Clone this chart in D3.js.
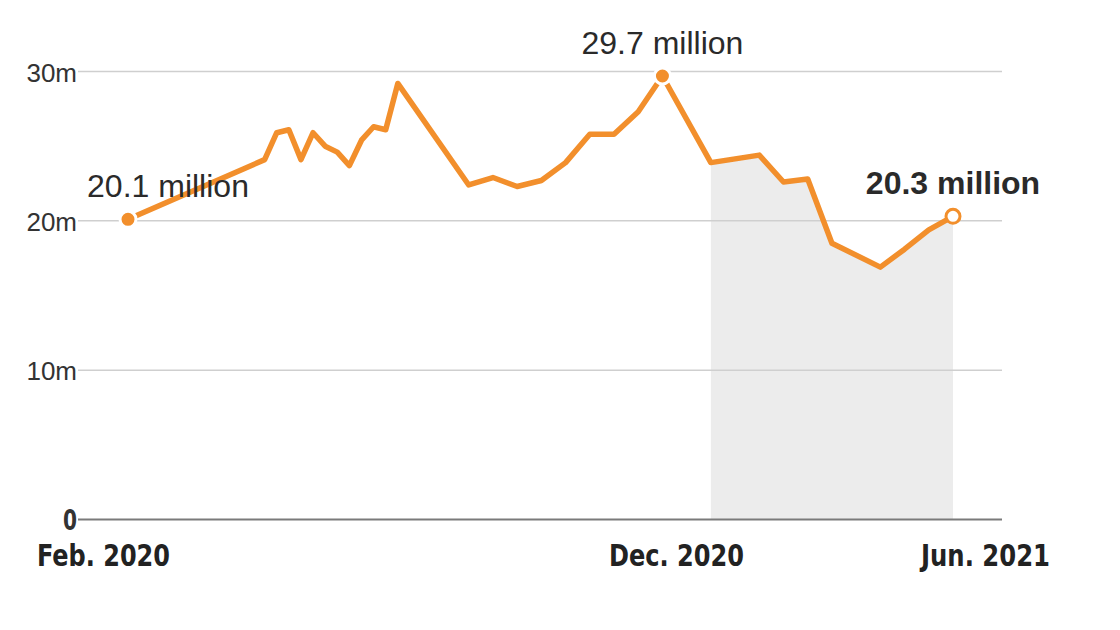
<!DOCTYPE html>
<html><head><meta charset="utf-8">
<script src="https://cdn.jsdelivr.net/npm/d3@7"></script>
<style>
html,body{margin:0;padding:0;background:#fff;}
svg{display:block;}
</style></head>
<body><svg id="chart" width="1120" height="630"></svg>
<script>
// Data (millions)
const dates = [
  "2020-02-11","2020-04-30","2020-05-07","2020-05-14","2020-05-21","2020-05-28",
  "2020-06-04","2020-06-11","2020-06-18","2020-06-25","2020-07-02","2020-07-09",
  "2020-07-16","2020-08-26","2020-09-09","2020-09-23","2020-10-07","2020-10-21",
  "2020-11-04","2020-11-18","2020-12-02","2020-12-16","2021-01-13","2021-02-10",
  "2021-02-24","2021-03-10","2021-03-24","2021-04-21","2021-05-05","2021-05-19",
  "2021-06-02"
];
const values = [
  20.1,24.1,25.9,26.1,24.1,25.9,
  25.0,24.6,23.7,25.4,26.3,26.1,
  29.2,22.4,22.9,22.3,22.7,23.9,
  25.8,25.8,27.3,29.7,23.9,24.4,
  22.6,22.8,18.5,16.9,18.1,19.4,
  20.3
];
const yTicks = [0, 10, 20, 30];
const yTickLabels = ["0", "10m", "20m", "30m"];
const xTickLabels = ["Feb. 2020", "Dec. 2020", "Jun. 2021"];
const shadeStart = "2021-01-13";
const annotations = [
  {date: "2020-02-11", value: 20.1, label: "20.1 million"},
  {date: "2020-12-16", value: 29.7, label: "29.7 million"},
  {date: "2021-06-02", value: 20.3, label: "20.3 million"}
];

const parse = d3.timeParse("%Y-%m-%d");
const data = dates.map((d, i) => ({date: parse(d), value: values[i]}));

const svg = d3.select("#chart");
const x = d3.scaleTime()
  .domain([parse(dates[0]), parse(dates[dates.length - 1])])
  .range([128, 953]);
const y = d3.scaleLinear().domain([0, 30]).range([519.5, 71.5]);

const orange = "#f28f2c";
const gridX0 = 78, gridX1 = 1002;
const condensed = "'Liberation Sans Narrow','DejaVu Sans Condensed',sans-serif";

// shaded area
const shadeData = data.filter(d => d.date >= parse(shadeStart));
svg.append("path")
  .datum(shadeData)
  .attr("fill", "#ececec")
  .attr("d", d3.area().x(d => x(d.date)).y0(y(0)).y1(d => y(d.value)));

// gridlines
svg.append("g").selectAll("line")
  .data(yTicks.filter(t => t !== 0))
  .join("line")
  .attr("x1", gridX0).attr("x2", gridX1)
  .attr("y1", d => y(d)).attr("y2", d => y(d))
  .attr("stroke", "#cfcfcf").attr("stroke-width", 1.5);

// zero line
svg.append("line")
  .attr("x1", gridX0).attr("x2", gridX1)
  .attr("y1", y(0)).attr("y2", y(0))
  .attr("stroke", "#7a7a7a").attr("stroke-width", 2);

// y tick labels
svg.append("g").selectAll("text")
  .data(yTicks)
  .join("text")
  .attr("x", 77)
  .attr("y", d => y(d) + 10)
  .attr("text-anchor", "end")
  .attr("fill", "#333")
  .attr("font-family", d => d === 0 ? condensed : "'Liberation Sans',Arial,sans-serif")
  .attr("font-weight", d => d === 0 ? "bold" : "normal")
  .attr("font-size", d => d === 0 ? 28 : 26)
  .each(function(d) { if (d === 0) d3.select(this).attr("textLength", 14).attr("lengthAdjust", "spacingAndGlyphs"); })
  .text((d, i) => yTickLabels[i]);

// x tick labels
const xLabelDates = [parse(dates[0]), parse("2020-12-16"), parse(dates[dates.length - 1])];
const xAnchors = ["start", "middle", "end"];
const xOffsets = [-91, 14, 97];
const xWidths = [133, 135, 129];
svg.append("g").selectAll("text")
  .data(xLabelDates)
  .join("text")
  .attr("x", (d, i) => x(d) + xOffsets[i])
  .attr("y", 566)
  .attr("text-anchor", (d, i) => xAnchors[i])
  .attr("fill", "#222")
  .attr("font-family", condensed)
  .attr("font-weight", "bold")
  .attr("font-size", 30)
  .attr("textLength", (d, i) => xWidths[i])
  .attr("lengthAdjust", "spacingAndGlyphs")
  .text((d, i) => xTickLabels[i]);

// line
svg.append("path")
  .datum(data)
  .attr("fill", "none")
  .attr("stroke", orange)
  .attr("stroke-width", 5.5)
  .attr("stroke-linejoin", "round")
  .attr("d", d3.line().x(d => x(d.date)).y(d => y(d.value)));

// dots + labels
annotations.forEach((a, i) => {
  const cx = x(parse(a.date)), cy = y(a.value);
  const last = i === annotations.length - 1;
  svg.append("circle")
    .attr("cx", cx).attr("cy", cy).attr("r", last ? 7 : 8)
    .attr("fill", last ? "#fff" : orange)
    .attr("stroke", last ? orange : "#fff")
    .attr("stroke-width", 3);
  svg.append("text")
    .attr("x", cx + (i === 0 ? 40 : 0))
    .attr("y", cy - 22)
    .attr("text-anchor", "middle")
    .attr("fill", "#2a2a2a")
    .attr("font-family", "'Liberation Sans',Arial,sans-serif")
    .attr("font-weight", last ? "bold" : "normal")
    .attr("font-size", 32)
    .text(a.label);
});
</script></body></html>
